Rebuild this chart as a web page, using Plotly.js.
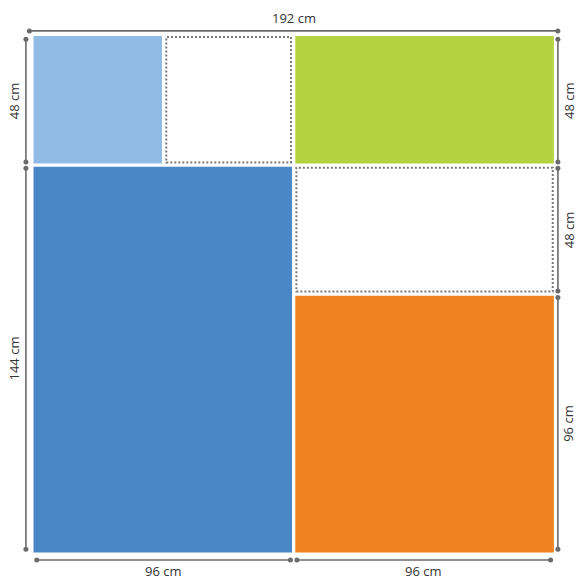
<!DOCTYPE html>
<html>
<head>
<meta charset="utf-8">
<script src="https://cdn.plot.ly/plotly-3.0.1.min.js"></script>
<style>html,body{margin:0;padding:0;background:#fff;}#chart{width:576px;height:577px;}</style>
</head>
<body>
<div id="chart"></div>
<script>
// ---- data (cm) ----
const pieceNames = ['small blue', 'empty top', 'green', 'large blue', 'empty right', 'orange'];
const pieceX0 = [0, 48, 96, 0, 96, 96];
const pieceX1 = [48, 96, 192, 96, 192, 192];
const pieceY0 = [144, 144, 144, 0, 96, 0];
const pieceY1 = [192, 192, 192, 144, 144, 96];
const pieceFilled = [true, false, true, true, false, true];

const topDims = [192];          // left to right
const leftDims = [48, 144];     // top to bottom
const rightDims = [48, 48, 96]; // top to bottom
const bottomDims = [96, 96];    // left to right
const unit = 'cm';

// ---- styles ----
const pieceColors = ['#8FBBE4', '#ffffff', '#B2D23E', '#4A87C7', '#ffffff', '#F18222'];
const dimColor = '#6b6b6b';
const textColor = '#333333';
const TOTAL = 192;

const shapes = [];
const gap = 0.6;
for (let i = 0; i < pieceNames.length; i++) {
  const ins = v => (v === 0 || v === TOTAL) ? 0 : gap;
  let x0 = pieceX0[i] + ins(pieceX0[i]), x1 = pieceX1[i] - ins(pieceX1[i]);
  let y0 = pieceY0[i] + ins(pieceY0[i]), y1 = pieceY1[i] - ins(pieceY1[i]);
  if (pieceFilled[i]) {
    shapes.push({type: 'rect', xref: 'x', yref: 'y', x0, x1, y0, y1,
      fillcolor: pieceColors[i], line: {width: 0}, layer: 'below'});
  } else {
    const d = 0.4;
    shapes.push({type: 'rect', xref: 'x', yref: 'y', x0: x0 + d, x1: x1 - d, y0: y0 + d, y1: y1 - d,
      fillcolor: 'rgba(0,0,0,0)', line: {width: 2, color: '#7a7a7a', dash: '2px,2px'}, layer: 'below'});
  }
}

const traces = [];
const annotations = [];
const font = {family: 'Open Sans, sans-serif', size: 13, color: textColor};
const inset = 1.2;

function seg(xs, ys) {
  traces.push({x: xs, y: ys, type: 'scatter', mode: 'lines+markers',
    line: {color: dimColor, width: 1.6}, marker: {color: dimColor, size: 5},
    hoverinfo: 'skip', showlegend: false});
}

// top (overall)
{
  let pos = 0;
  topDims.forEach(v => {
    seg([pos - 1.5, pos + v + 1.5], [193.9, 193.9]);
    annotations.push({x: pos + v / 2, y: 198.7, xref: 'x', yref: 'y', text: v + ' ' + unit,
      showarrow: false, font, borderpad: 0});
    pos += v;
  });
}
// bottom
{
  let pos = 0;
  bottomDims.forEach(v => {
    seg([pos + inset, pos + v - inset], [-2.8, -2.8]);
    annotations.push({x: pos + v / 2, y: -6.8, xref: 'x', yref: 'y', text: v + ' ' + unit,
      showarrow: false, font, borderpad: 0});
    pos += v;
  });
}
// left
{
  let pos = TOTAL;
  leftDims.forEach(v => {
    seg([-2.8, -2.8], [pos - inset, pos - v + inset]);
    annotations.push({x: -7.3, y: pos - v / 2, xref: 'x', yref: 'y', text: v + ' ' + unit,
      showarrow: false, textangle: -90, font, borderpad: 0});
    pos -= v;
  });
}
// right
{
  let pos = TOTAL;
  rightDims.forEach(v => {
    seg([193.5, 193.5], [pos - inset, pos - v + inset]);
    annotations.push({x: 197.4, y: pos - v / 2, xref: 'x', yref: 'y', text: v + ' ' + unit,
      showarrow: false, textangle: -90, font, borderpad: 0});
    pos -= v;
  });
}

const layout = {
  width: 576, height: 577,
  margin: {l: 0, r: 0, t: 0, b: 0, pad: 0},
  paper_bgcolor: '#ffffff', plot_bgcolor: '#ffffff',
  xaxis: {range: [-12.36, 200.18], visible: false, fixedrange: true},
  yaxis: {range: [-9.12, 205.38], visible: false, fixedrange: true},
  shapes, annotations, showlegend: false
};

Plotly.newPlot('chart', traces, layout, {displayModeBar: false, staticPlot: true});
</script>
</body>
</html>
